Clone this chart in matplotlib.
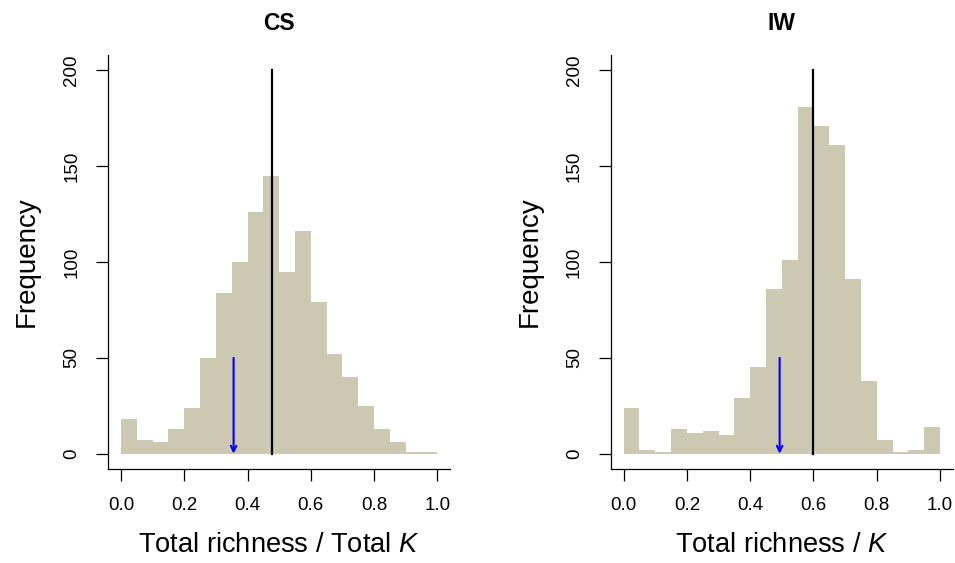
import numpy as np
import matplotlib.pyplot as plt

plt.rcParams['font.family'] = ['Liberation Sans', 'DejaVu Sans']
plt.rcParams['mathtext.fontset'] = 'custom'
plt.rcParams['mathtext.rm'] = 'Liberation Sans'
plt.rcParams['mathtext.it'] = 'Liberation Sans:italic'

# bin edges of both histograms (width 0.05)
bin_edges = np.linspace(0, 1, 21)

cs_counts = [18, 7, 6, 13, 24, 50, 84, 100, 126, 145,
             95, 116, 79, 52, 40, 25, 13, 6, 1, 1]
iw_counts = [24, 2, 1, 13, 11, 12, 10, 29, 45, 86,
             101, 181, 171, 161, 91, 38, 7, 1, 2, 14]

cs_observed = 0.476
cs_null = 0.356
iw_observed = 0.597
iw_null = 0.493

titles = ["CS", "IW"]
xlabels = ["Total richness / Total $\\it{K}$", "Total richness / $\\it{K}$"]

fig = plt.figure(figsize=(9.55, 5.63), dpi=100)
W, H = 955, 563
lefts = [108.3, 611]
axes = []
for l in lefts:
    axes.append(fig.add_axes([l / W, (H - 469) / H, 341.7 / W, 414 / H]))

panels = [(cs_counts, cs_observed, cs_null), (iw_counts, iw_observed, iw_null)]
for i, ax in enumerate(axes):
    counts, obs, null = panels[i]
    ax.stairs(counts, bin_edges, fill=True, color="#CDC8B1", linewidth=0)
    ax.plot([obs, obs], [0, 200], color="black", lw=1.6)
    ax.annotate("", xy=(null, 0), xytext=(null, 50),
                arrowprops=dict(arrowstyle="->", color="blue", lw=1.5,
                                mutation_scale=10, shrinkA=0, shrinkB=0))
    ax.set_xlim(-0.04, 1.04)
    ax.set_ylim(-8, 208)
    for s in ["top", "right"]:
        ax.spines[s].set_visible(False)
    for s in ["left", "bottom"]:
        ax.spines[s].set_linewidth(0.9)
    ax.set_xticks([0, 0.2, 0.4, 0.6, 0.8, 1.0])
    ax.set_xticklabels(["0.0", "0.2", "0.4", "0.6", "0.8", "1.0"])
    ax.set_yticks([0, 50, 100, 150, 200])
    ax.tick_params(axis="both", direction="out", length=8.6, width=0.9,
                   labelsize=13.5, pad=11.5)
    for lab in ax.get_yticklabels():
        lab.set_rotation(90)
        lab.set_va("center")
    ax.set_ylabel("Frequency", fontsize=20)
    ax.yaxis.set_label_coords(-0.238, 0.5)
    ax.yaxis.label.set_va("center")
    ax.set_xlabel(xlabels[i], fontsize=19.6)
    ax.xaxis.set_label_coords(0.5, -0.184)
    ax.xaxis.label.set_va("center")
    ax.text(0.5, 1.077, titles[i], transform=ax.transAxes, ha="center",
            va="center", fontsize=16.5, fontweight="bold")

fig.savefig("out.png", dpi=100)
